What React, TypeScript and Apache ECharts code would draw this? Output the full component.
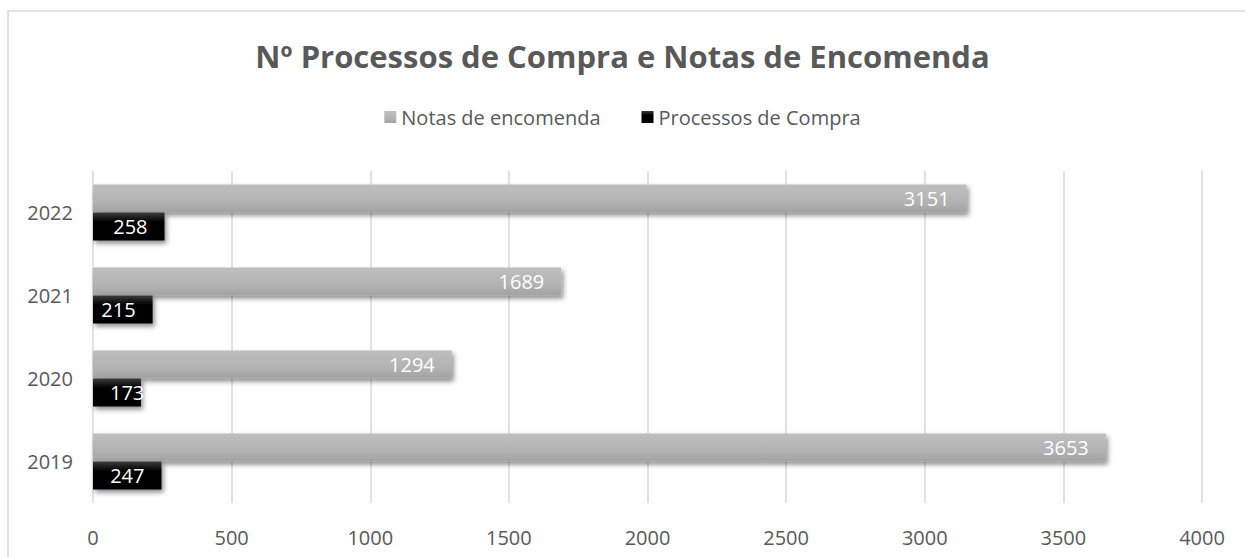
import React, { useEffect, useRef } from "react";
import * as echarts from "echarts";

const categories = ["2019", "2020", "2021", "2022"];
const notasEncomenda = [3653, 1294, 1689, 3151];
const processosCompra = [247, 173, 215, 258];
const xTicks = { min: 0, max: 4000, interval: 500 };
const titleText = "Nº Processos de Compra e Notas de Encomenda";
const seriesNames = ["Notas de encomenda", "Processos de Compra"];

const FONT = "'Open Sans', 'Noto Sans', sans-serif";
const TXT = "#595959";

export default function App() {
  const ref = useRef<HTMLDivElement>(null);
  useEffect(() => {
    document.body.style.margin = "0";
    const chart = echarts.init(ref.current!, null, { renderer: "svg" });
    const grayGrad = new echarts.graphic.LinearGradient(0, 0, 0, 1, [
      { offset: 0, color: "#bebebe" },
      { offset: 0.6, color: "#b3b3b3" },
      { offset: 1, color: "#a2a2a2" },
    ]);
    const blackGrad = new echarts.graphic.LinearGradient(0, 0, 0, 1, [
      { offset: 0, color: "#3c3c3c" },
      { offset: 0.35, color: "#000000" },
      { offset: 1, color: "#000000" },
    ]);
    const labelBase = {
      show: true,
      position: "insideRight" as const,
      distance: 17,
      color: "#ffffff",
      fontSize: 20,
      fontFamily: FONT,
    };
    const shadow = {
      shadowColor: "rgba(0,0,0,0.45)",
      shadowBlur: 5,
      shadowOffsetX: 2,
      shadowOffsetY: 3,
    };
    chart.setOption({
      animation: false,
      backgroundColor: "#ffffff",
      title: {
        text: titleText,
        left: "center",
        top: 35,
        textStyle: { fontFamily: FONT, fontSize: 31, fontWeight: "bold", color: TXT },
      },
      legend: {
        data: [seriesNames[0], seriesNames[1]],
        top: 102,
        left: "center",
        itemWidth: 12,
        itemHeight: 12,
        itemGap: 41,
        icon: "rect",
        textStyle: { fontFamily: FONT, fontSize: 20, color: TXT },
      },
      grid: { left: 93, right: 43, top: 171, bottom: 54, containLabel: false },
      xAxis: {
        type: "value",
        min: xTicks.min,
        max: xTicks.max,
        interval: xTicks.interval,
        axisLine: { show: false },
        axisTick: { show: false },
        axisLabel: {
          fontFamily: FONT,
          fontSize: 20,
          color: TXT,
          margin: 24,
          formatter: (v: number) => String(v),
        },
        splitLine: { lineStyle: { color: "#d9d9d9", width: 1.5 } },
      },
      yAxis: {
        type: "category",
        data: categories,
        axisLine: { show: false },
        axisTick: { show: false },
        axisLabel: { fontFamily: FONT, fontSize: 20, color: TXT, margin: 20 },
      },
      series: [
        {
          name: seriesNames[0],
          type: "bar",
          data: notasEncomenda,
          barWidth: 28,
          barGap: "0%",
          itemStyle: { color: grayGrad, ...shadow },
          label: labelBase,
        },
        {
          name: seriesNames[1],
          type: "bar",
          data: processosCompra.map((v) =>
            v < 200 ? { value: v, label: { position: "insideLeft", distance: 17 } } : v
          ),
          barWidth: 28,
          barGap: "0%",
          itemStyle: { color: blackGrad, ...shadow },
          label: labelBase,
        },
      ],
      graphic: [
        {
          type: "rect",
          shape: { x: 8, y: 11, width: 1400, height: 700 },
          style: { fill: "none", stroke: "#d9d9d9", lineWidth: 1.5 },
          silent: true,
          z: -10,
        },
      ],
    });
    return () => chart.dispose();
  }, []);
  return <div ref={ref} style={{ width: 1245, height: 557 }} />;
}
